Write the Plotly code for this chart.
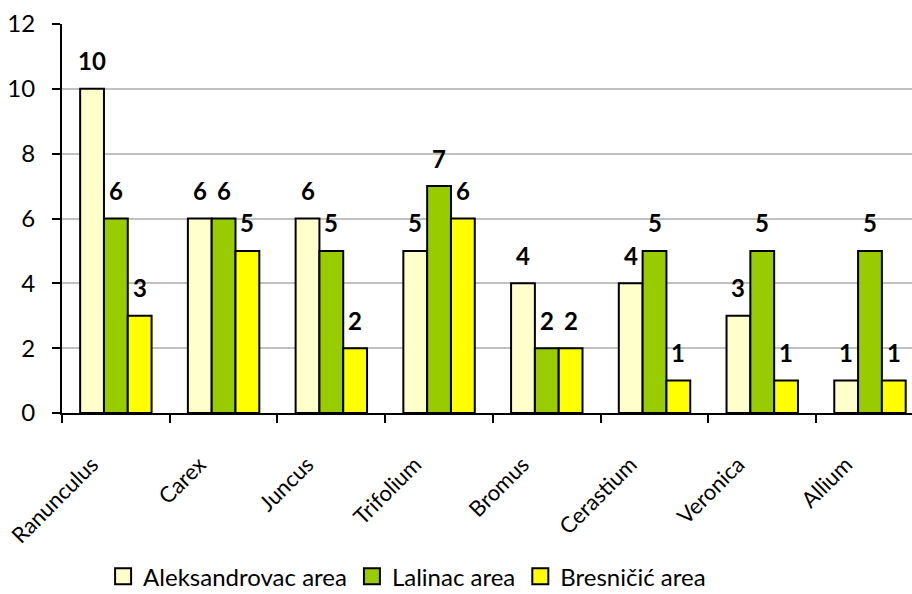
import plotly.graph_objects as go

# Genus counts per study area
genera = ["Ranunculus", "Carex", "Juncus", "Trifolium", "Bromus", "Cerastium", "Veronica", "Allium"]
aleksandrovac = [10, 6, 6, 5, 4, 4, 3, 1]
lalinac = [6, 6, 5, 7, 2, 5, 5, 5]
bresnicic = [3, 5, 2, 6, 2, 1, 1, 1]

series_names = ["Aleksandrovac area", "Lalinac area", "Bresničić area"]
series_values = [aleksandrovac, lalinac, bresnicic]
series_colors = ["#FFFFCC", "#99CC00", "#FFFF00"]

FONT = "Lato, Calibri, Arial, sans-serif"
FS = 24
BARGAP = 0.337
bar_w = (1 - BARGAP) / len(series_values)

fig = go.Figure()
for name, vals, col in zip(series_names, series_values, series_colors):
    fig.add_trace(go.Bar(
        x=genera, y=vals, name=name, showlegend=False,
        marker=dict(color=col, line=dict(color="black", width=2)),
    ))

# Square legend keys with a heavy black outline
for name, col in zip(series_names, series_colors):
    fig.add_trace(go.Scatter(
        x=[None], y=[None], name=name, mode="markers",
        marker=dict(symbol="square", size=16, color=col,
                    line=dict(color="black", width=2)),
    ))

# Value labels, centred over each bar and raised above its top
annotations = []
for k, vals in enumerate(series_values):
    off = (k - (len(series_values) - 1) / 2) * bar_w
    for i, v in enumerate(vals):
        annotations.append(dict(
            x=i + off, y=v, xref="x", yref="y",
            text=f"<b>{v}</b>", showarrow=False,
            yanchor="middle", yshift=28,
            font=dict(family=FONT, size=FS, color="black"),
        ))

fig.update_layout(
    width=912, height=594,
    margin=dict(l=62, r=0, t=24, b=181, autoexpand=False),
    paper_bgcolor="white", plot_bgcolor="white",
    barmode="group", bargap=BARGAP, bargroupgap=0,
    font=dict(family=FONT, size=FS, color="black"),
    annotations=annotations,
    showlegend=True,
    legend=dict(
        orientation="h", x=0.406, xanchor="center",
        yref="container", y=0.029, yanchor="middle",
        font=dict(family=FONT, size=FS, color="black"),
        itemwidth=30, traceorder="normal",
    ),
)

fig.update_xaxes(
    type="category", range=[-0.5, 7.39], automargin=False,
    showline=True, linecolor="black", linewidth=2,
    ticks="outside", tickson="boundaries", ticklen=8, tickwidth=2, tickcolor="black",
    tickangle=-45, ticklabelstandoff=28, ticklabelshift=-24,
    tickfont=dict(family=FONT, size=22, color="black"),
    showgrid=False, zeroline=False,
)
fig.update_yaxes(
    range=[0, 12], dtick=2, tick0=0, automargin=False,
    showline=True, linecolor="black", linewidth=2,
    ticks="outside", ticklen=8, tickwidth=2, tickcolor="black",
    ticklabelstandoff=12,
    tickfont=dict(family=FONT, size=FS, color="black"),
    showgrid=True, gridcolor="#C0C0C0", gridwidth=2,
    zeroline=False,
)

fig.write_html("out.html")
